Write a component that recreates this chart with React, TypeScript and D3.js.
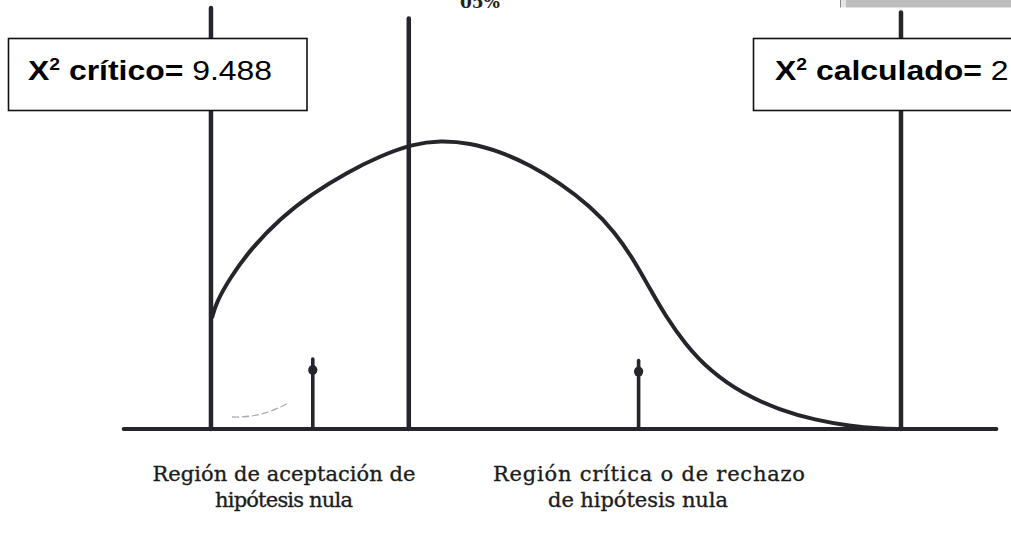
import React from 'react';
import * as d3 from 'd3';

// chi-square curve as drawn in the figure (x = chi-square value, y = density)
const curveX = [0.014, 0.069, 0.261, 0.536, 0.949, 1.403, 1.87, 2.324, 2.778, 3.149, 3.562, 3.974, 4.387,
  4.799, 5.212, 5.556, 5.831, 6.037, 6.243, 6.518, 6.862, 7.316, 7.825, 8.306, 8.787, 9.2, 9.475];
const curveY = [0.073, 0.0829, 0.0993, 0.1178, 0.1385, 0.1552, 0.1688, 0.1796, 0.1875, 0.1898, 0.1882, 0.1825,
  0.1737, 0.1618, 0.1467, 0.1296, 0.1099, 0.0921, 0.075, 0.0559, 0.0382, 0.023, 0.0125, 0.0059, 0.002, 0.0003, 0];

// vertical reference lines and small arrows
const markerX = [0, 2.72, 9.488];
const markerTop = [0.277, 0.27, 0.274];
const arrowX = [1.4, 5.88];
const arrowTop = [0.046, 0.045];
const axisExtent = [-1.2, 10.8];

const labelsLeft = ['Región de aceptación de', 'hipótesis nula'];
const labelsRight = ['Región crítica o de rechazo', 'de hipótesis nula'];
const critValue = '9.488';
const calcValue = '2';

const width = 1011;
const height = 555;
const ink = '#25252b';

function ValueBox(props: { x: number; w: number; name: string; value: string; textX: number }) {
  return (
    <g>
      <rect x={props.x} y={38.5} width={props.w} height={72} fill="#fff" stroke="#111" strokeWidth={1.6} />
      <g transform={`translate(${props.textX},80) scale(1.14,1)`}>
        <text fontFamily="'Liberation Sans', Arial, sans-serif" fontSize={28} fill="#000">
          <tspan fontWeight="bold">X</tspan>
          <tspan fontWeight="bold" fontSize={17} dy={-10}>2</tspan>
          <tspan fontWeight="bold" dy={10}> {props.name}=</tspan>
          <tspan> {props.value}</tspan>
        </text>
      </g>
    </g>
  );
}

export default function App() {
  const x = d3.scaleLinear().domain(axisExtent).range([123.7, 996.4]);
  const y = d3.scaleLinear().domain([0, 0.2]).range([429, 125]);

  const points: [number, number][] = curveX.map((v, i) => [v, curveY[i]]);
  const line = d3.line<[number, number]>()
    .x(d => x(d[0]))
    .y(d => y(d[1]))
    .curve(d3.curveBasis);

  const serif = "'DejaVu Serif', 'Liberation Serif', serif";

  return (
    <svg width={width} height={height} style={{ position: 'absolute', left: 0, top: 0, background: '#fff' }}>
      {/* scanned page corner */}
      <rect x={846} y={0} width={165} height={7.5} fill="#bdbdbd" />
      <rect x={841} y={0} width={5} height={7.5} fill="#e4e4e4" />
      <line x1={840.5} x2={840.5} y1={0} y2={7.5} stroke="#888" strokeWidth={1} />
      <text x={460} y={8} fontFamily={serif} fontWeight="bold" fontSize={17} fill="#222">05%</text>

      {/* baseline */}
      <line x1={x(axisExtent[0])} x2={x(axisExtent[1])} y1={y(0)} y2={y(0)}
        stroke={ink} strokeWidth={4} strokeLinecap="round" />

      {/* vertical lines */}
      {markerX.map((v, i) => (
        <line key={'m' + i} x1={x(v)} x2={x(v)} y1={y(0)} y2={y(markerTop[i])}
          stroke={ink} strokeWidth={4.5} strokeLinecap="round" />
      ))}

      {/* arrows */}
      {arrowX.map((v, i) => (
        <g key={'a' + i}>
          <line x1={x(v)} x2={x(v)} y1={y(0)} y2={y(arrowTop[i])}
            stroke={ink} strokeWidth={3.6} strokeLinecap="round" />
          <ellipse cx={x(v)} cy={y(arrowTop[i]) + 11} rx={4.6} ry={5} fill={ink} />
        </g>
      ))}

      {/* pencil mark */}
      <path d="M232,417 Q262,418 288,403" fill="none" stroke="#8a8a8a" strokeWidth={1.3}
        strokeDasharray="7 3" opacity={0.7} />

      {/* distribution curve */}
      <path d={line(points) || ''} fill="none" stroke={ink} strokeWidth={4} strokeLinejoin="round" />

      {/* region labels */}
      <g fontFamily={serif} fontSize={21} fill="#1c1c1c" stroke="#1c1c1c" strokeWidth={0.35}>
        <text x={284} y={481} textAnchor="middle" textLength={263} lengthAdjust="spacing">{labelsLeft[0]}</text>
        <text x={284} y={507} textAnchor="middle" textLength={138} lengthAdjust="spacing">{labelsLeft[1]}</text>
        <text x={649} y={481} textAnchor="middle" textLength={312} lengthAdjust="spacing">{labelsRight[0]}</text>
        <text x={638} y={507} textAnchor="middle" textLength={180} lengthAdjust="spacing">{labelsRight[1]}</text>
      </g>

      {/* value boxes */}
      <ValueBox x={8.5} w={298.5} textX={28} name="crítico" value={critValue} />
      <ValueBox x={753.5} w={330} textX={775} name="calculado" value={calcValue} />
    </svg>
  );
}
